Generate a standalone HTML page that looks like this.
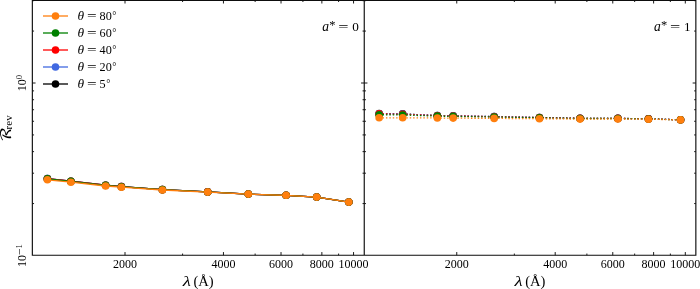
<!DOCTYPE html>
<html><head><meta charset="utf-8"><title>R_rev vs wavelength</title>
<style>
html,body{margin:0;padding:0;background:#fff}
svg{display:block}
.t{font-family:"Liberation Serif","DejaVu Serif",serif;fill:#000}
.cal{font-family:"DejaVu Math TeX Gyre","DejaVu Sans",serif}
</style></head><body>
<svg width="700" height="289" viewBox="0 0 700 289">
<rect width="700" height="289" fill="#fff"/>
<polyline points="47.40,178.60 70.90,181.20 105.60,185.20 121.40,186.60 162.40,189.60 207.70,191.90 248.30,194.10 286.10,195.30 316.70,197.10 348.80,202.10" fill="none" stroke="#000000" stroke-width="1.3" stroke-linejoin="round"/>
<circle cx="47.40" cy="178.60" r="3.8" fill="#000000"/>
<circle cx="70.90" cy="181.20" r="3.8" fill="#000000"/>
<circle cx="105.60" cy="185.20" r="3.8" fill="#000000"/>
<circle cx="121.40" cy="186.60" r="3.8" fill="#000000"/>
<circle cx="162.40" cy="189.60" r="3.8" fill="#000000"/>
<circle cx="207.70" cy="191.90" r="3.8" fill="#000000"/>
<circle cx="248.30" cy="194.10" r="3.8" fill="#000000"/>
<circle cx="286.10" cy="195.30" r="3.8" fill="#000000"/>
<circle cx="316.70" cy="197.10" r="3.8" fill="#000000"/>
<circle cx="348.80" cy="202.10" r="3.8" fill="#000000"/>
<polyline points="47.40,178.63 70.90,181.22 105.60,185.22 121.40,186.61 162.40,189.61 207.70,191.91 248.30,194.10 286.10,195.30 316.70,197.10 348.80,202.10" fill="none" stroke="#4169e1" stroke-width="1.3" stroke-linejoin="round"/>
<circle cx="47.40" cy="178.63" r="3.8" fill="#4169e1"/>
<circle cx="70.90" cy="181.22" r="3.8" fill="#4169e1"/>
<circle cx="105.60" cy="185.22" r="3.8" fill="#4169e1"/>
<circle cx="121.40" cy="186.61" r="3.8" fill="#4169e1"/>
<circle cx="162.40" cy="189.61" r="3.8" fill="#4169e1"/>
<circle cx="207.70" cy="191.91" r="3.8" fill="#4169e1"/>
<circle cx="248.30" cy="194.10" r="3.8" fill="#4169e1"/>
<circle cx="286.10" cy="195.30" r="3.8" fill="#4169e1"/>
<circle cx="316.70" cy="197.10" r="3.8" fill="#4169e1"/>
<circle cx="348.80" cy="202.10" r="3.8" fill="#4169e1"/>
<polyline points="47.40,178.68 70.90,181.27 105.60,185.25 121.40,186.64 162.40,189.63 207.70,191.91 248.30,194.10 286.10,195.30 316.70,197.10 348.80,202.10" fill="none" stroke="#ff0000" stroke-width="1.3" stroke-linejoin="round"/>
<circle cx="47.40" cy="178.68" r="3.8" fill="#ff0000"/>
<circle cx="70.90" cy="181.27" r="3.8" fill="#ff0000"/>
<circle cx="105.60" cy="185.25" r="3.8" fill="#ff0000"/>
<circle cx="121.40" cy="186.64" r="3.8" fill="#ff0000"/>
<circle cx="162.40" cy="189.63" r="3.8" fill="#ff0000"/>
<circle cx="207.70" cy="191.91" r="3.8" fill="#ff0000"/>
<circle cx="248.30" cy="194.10" r="3.8" fill="#ff0000"/>
<circle cx="286.10" cy="195.30" r="3.8" fill="#ff0000"/>
<circle cx="316.70" cy="197.10" r="3.8" fill="#ff0000"/>
<circle cx="348.80" cy="202.10" r="3.8" fill="#ff0000"/>
<polyline points="47.40,178.82 70.90,181.38 105.60,185.35 121.40,186.71 162.40,189.67 207.70,191.94 248.30,194.10 286.10,195.30 316.70,197.10 348.80,202.10" fill="none" stroke="#008000" stroke-width="1.3" stroke-linejoin="round"/>
<circle cx="47.40" cy="178.82" r="3.8" fill="#008000"/>
<circle cx="70.90" cy="181.38" r="3.8" fill="#008000"/>
<circle cx="105.60" cy="185.35" r="3.8" fill="#008000"/>
<circle cx="121.40" cy="186.71" r="3.8" fill="#008000"/>
<circle cx="162.40" cy="189.67" r="3.8" fill="#008000"/>
<circle cx="207.70" cy="191.94" r="3.8" fill="#008000"/>
<circle cx="248.30" cy="194.10" r="3.8" fill="#008000"/>
<circle cx="286.10" cy="195.30" r="3.8" fill="#008000"/>
<circle cx="316.70" cy="197.10" r="3.8" fill="#008000"/>
<circle cx="348.80" cy="202.10" r="3.8" fill="#008000"/>
<polyline points="47.40,179.80 70.90,182.20 105.60,186.00 121.40,187.20 162.40,190.00 207.70,192.10 248.30,194.10 286.10,195.30 316.70,197.10 348.80,202.10" fill="none" stroke="#ff7f0e" stroke-width="1.3" stroke-linejoin="round"/>
<circle cx="47.40" cy="179.80" r="3.8" fill="#ff7f0e"/>
<circle cx="70.90" cy="182.20" r="3.8" fill="#ff7f0e"/>
<circle cx="105.60" cy="186.00" r="3.8" fill="#ff7f0e"/>
<circle cx="121.40" cy="187.20" r="3.8" fill="#ff7f0e"/>
<circle cx="162.40" cy="190.00" r="3.8" fill="#ff7f0e"/>
<circle cx="207.70" cy="192.10" r="3.8" fill="#ff7f0e"/>
<circle cx="248.30" cy="194.10" r="3.8" fill="#ff7f0e"/>
<circle cx="286.10" cy="195.30" r="3.8" fill="#ff7f0e"/>
<circle cx="316.70" cy="197.10" r="3.8" fill="#ff7f0e"/>
<circle cx="348.80" cy="202.10" r="3.8" fill="#ff7f0e"/>
<polyline points="379.15,113.55 402.65,113.90 437.35,115.47 453.15,115.77 494.15,116.58 539.45,117.49 580.05,118.29 617.85,118.34 648.45,118.85 680.55,119.80" fill="none" stroke="#000000" stroke-width="1.3" stroke-dasharray="1.45 1.95"/>
<circle cx="379.15" cy="113.55" r="3.8" fill="#000000"/>
<circle cx="402.65" cy="113.90" r="3.8" fill="#000000"/>
<circle cx="437.35" cy="115.47" r="3.8" fill="#000000"/>
<circle cx="453.15" cy="115.77" r="3.8" fill="#000000"/>
<circle cx="494.15" cy="116.58" r="3.8" fill="#000000"/>
<circle cx="539.45" cy="117.49" r="3.8" fill="#000000"/>
<circle cx="580.05" cy="118.29" r="3.8" fill="#000000"/>
<circle cx="617.85" cy="118.34" r="3.8" fill="#000000"/>
<circle cx="648.45" cy="118.85" r="3.8" fill="#000000"/>
<circle cx="680.55" cy="119.80" r="3.8" fill="#000000"/>
<polyline points="379.15,113.70 402.65,114.04 437.35,115.56 453.15,115.85 494.15,116.64 539.45,117.53 580.05,118.32 617.85,118.36 648.45,118.86 680.55,119.80" fill="none" stroke="#4169e1" stroke-width="1.3" stroke-dasharray="1.45 1.95"/>
<circle cx="379.15" cy="113.70" r="3.8" fill="#4169e1"/>
<circle cx="402.65" cy="114.04" r="3.8" fill="#4169e1"/>
<circle cx="437.35" cy="115.56" r="3.8" fill="#4169e1"/>
<circle cx="453.15" cy="115.85" r="3.8" fill="#4169e1"/>
<circle cx="494.15" cy="116.64" r="3.8" fill="#4169e1"/>
<circle cx="539.45" cy="117.53" r="3.8" fill="#4169e1"/>
<circle cx="580.05" cy="118.32" r="3.8" fill="#4169e1"/>
<circle cx="617.85" cy="118.36" r="3.8" fill="#4169e1"/>
<circle cx="648.45" cy="118.86" r="3.8" fill="#4169e1"/>
<circle cx="680.55" cy="119.80" r="3.8" fill="#4169e1"/>
<polyline points="379.15,113.90 402.65,114.22 437.35,115.68 453.15,115.96 494.15,116.73 539.45,117.59 580.05,118.36 617.85,118.39 648.45,118.88 680.55,119.81" fill="none" stroke="#ff0000" stroke-width="1.3" stroke-dasharray="1.45 1.95"/>
<circle cx="379.15" cy="113.90" r="3.8" fill="#ff0000"/>
<circle cx="402.65" cy="114.22" r="3.8" fill="#ff0000"/>
<circle cx="437.35" cy="115.68" r="3.8" fill="#ff0000"/>
<circle cx="453.15" cy="115.96" r="3.8" fill="#ff0000"/>
<circle cx="494.15" cy="116.73" r="3.8" fill="#ff0000"/>
<circle cx="539.45" cy="117.59" r="3.8" fill="#ff0000"/>
<circle cx="580.05" cy="118.36" r="3.8" fill="#ff0000"/>
<circle cx="617.85" cy="118.39" r="3.8" fill="#ff0000"/>
<circle cx="648.45" cy="118.88" r="3.8" fill="#ff0000"/>
<circle cx="680.55" cy="119.81" r="3.8" fill="#ff0000"/>
<polyline points="379.15,114.70 402.65,114.96 437.35,116.15 453.15,116.40 494.15,117.07 539.45,117.81 580.05,118.51 617.85,118.51 648.45,118.95 680.55,119.83" fill="none" stroke="#008000" stroke-width="1.3" stroke-dasharray="1.45 1.95"/>
<circle cx="379.15" cy="114.70" r="3.8" fill="#008000"/>
<circle cx="402.65" cy="114.96" r="3.8" fill="#008000"/>
<circle cx="437.35" cy="116.15" r="3.8" fill="#008000"/>
<circle cx="453.15" cy="116.40" r="3.8" fill="#008000"/>
<circle cx="494.15" cy="117.07" r="3.8" fill="#008000"/>
<circle cx="539.45" cy="117.81" r="3.8" fill="#008000"/>
<circle cx="580.05" cy="118.51" r="3.8" fill="#008000"/>
<circle cx="617.85" cy="118.51" r="3.8" fill="#008000"/>
<circle cx="648.45" cy="118.95" r="3.8" fill="#008000"/>
<circle cx="680.55" cy="119.83" r="3.8" fill="#008000"/>
<polyline points="379.15,117.80 402.65,117.80 437.35,118.00 453.15,118.10 494.15,118.40 539.45,118.70 580.05,119.10 617.85,118.95 648.45,119.25 680.55,119.90" fill="none" stroke="#ff7f0e" stroke-width="1.3" stroke-dasharray="1.45 1.95"/>
<circle cx="379.15" cy="117.80" r="3.8" fill="#ff7f0e"/>
<circle cx="402.65" cy="117.80" r="3.8" fill="#ff7f0e"/>
<circle cx="437.35" cy="118.00" r="3.8" fill="#ff7f0e"/>
<circle cx="453.15" cy="118.10" r="3.8" fill="#ff7f0e"/>
<circle cx="494.15" cy="118.40" r="3.8" fill="#ff7f0e"/>
<circle cx="539.45" cy="118.70" r="3.8" fill="#ff7f0e"/>
<circle cx="580.05" cy="119.10" r="3.8" fill="#ff7f0e"/>
<circle cx="617.85" cy="118.95" r="3.8" fill="#ff7f0e"/>
<circle cx="648.45" cy="119.25" r="3.8" fill="#ff7f0e"/>
<circle cx="680.55" cy="119.90" r="3.8" fill="#ff7f0e"/>
<path d="M125.00 255.25L125.00 252.05M125.00 0.30L125.00 3.50M223.44 255.25L223.44 252.05M223.44 0.30L223.44 3.50M281.02 255.25L281.02 252.05M281.02 0.30L281.02 3.50M321.87 255.25L321.87 252.05M321.87 0.30L321.87 3.50M353.56 255.25L353.56 252.05M353.56 0.30L353.56 3.50M182.58 255.25L182.58 253.55M182.58 0.30L182.58 2.00M255.13 255.25L255.13 253.55M255.13 0.30L255.13 2.00M302.91 255.25L302.91 253.55M302.91 0.30L302.91 2.00M338.60 255.25L338.60 253.55M338.60 0.30L338.60 2.00M32.35 83.00L35.55 83.00M364.25 83.00L361.05 83.00M32.35 203.57L34.05 203.57M364.25 203.57L362.55 203.57M32.35 173.20L34.05 173.20M364.25 173.20L362.55 173.20M32.35 151.64L34.05 151.64M364.25 151.64L362.55 151.64M32.35 134.93L34.05 134.93M364.25 134.93L362.55 134.93M32.35 121.27L34.05 121.27M364.25 121.27L362.55 121.27M32.35 109.72L34.05 109.72M364.25 109.72L362.55 109.72M32.35 99.72L34.05 99.72M364.25 99.72L362.55 99.72M32.35 90.89L34.05 90.89M364.25 90.89L362.55 90.89M32.35 31.07L34.05 31.07M364.25 31.07L362.55 31.07M32.35 0.70L34.05 0.70M364.25 0.70L362.55 0.70M456.75 255.25L456.75 252.05M456.75 0.30L456.75 3.50M555.19 255.25L555.19 252.05M555.19 0.30L555.19 3.50M612.77 255.25L612.77 252.05M612.77 0.30L612.77 3.50M653.62 255.25L653.62 252.05M653.62 0.30L653.62 3.50M685.31 255.25L685.31 252.05M685.31 0.30L685.31 3.50M514.33 255.25L514.33 253.55M514.33 0.30L514.33 2.00M586.88 255.25L586.88 253.55M586.88 0.30L586.88 2.00M634.66 255.25L634.66 253.55M634.66 0.30L634.66 2.00M670.35 255.25L670.35 253.55M670.35 0.30L670.35 2.00M364.25 83.00L367.45 83.00M695.85 83.00L692.65 83.00M364.25 203.57L365.95 203.57M695.85 203.57L694.15 203.57M364.25 173.20L365.95 173.20M695.85 173.20L694.15 173.20M364.25 151.64L365.95 151.64M695.85 151.64L694.15 151.64M364.25 134.93L365.95 134.93M695.85 134.93L694.15 134.93M364.25 121.27L365.95 121.27M695.85 121.27L694.15 121.27M364.25 109.72L365.95 109.72M695.85 109.72L694.15 109.72M364.25 99.72L365.95 99.72M695.85 99.72L694.15 99.72M364.25 90.89L365.95 90.89M695.85 90.89L694.15 90.89M364.25 31.07L365.95 31.07M695.85 31.07L694.15 31.07M364.25 0.70L365.95 0.70M695.85 0.70L694.15 0.70" stroke="#000" stroke-width="0.9" fill="none"/>
<path d="M32.35 0.3H695.85V255.25H32.35ZM364.25 0.3V255.25" fill="none" stroke="#0d0d0d" stroke-width="1.15"/>
<path d="M43 16H68" stroke="#ff7f0e" stroke-width="1.3"/><circle cx="55.5" cy="16" r="3.8" fill="#ff7f0e"/>
<text x="77.4" y="20.4" class="t" font-size="13.4" font-style="italic">θ</text>
<text transform="translate(87.0 20.4) scale(1.38 1)" class="t" font-size="12.4">=</text>
<text x="99.6" y="20.4" class="t" font-size="12.2">80<tspan dx="0.5" dy="-1.5" font-size="10.4">°</tspan></text>
<path d="M43 33H68" stroke="#008000" stroke-width="1.3"/><circle cx="55.5" cy="33" r="3.8" fill="#008000"/>
<text x="77.4" y="37.4" class="t" font-size="13.4" font-style="italic">θ</text>
<text transform="translate(87.0 37.4) scale(1.38 1)" class="t" font-size="12.4">=</text>
<text x="99.6" y="37.4" class="t" font-size="12.2">60<tspan dx="0.5" dy="-1.5" font-size="10.4">°</tspan></text>
<path d="M43 50H68" stroke="#ff0000" stroke-width="1.3"/><circle cx="55.5" cy="50" r="3.8" fill="#ff0000"/>
<text x="77.4" y="54.4" class="t" font-size="13.4" font-style="italic">θ</text>
<text transform="translate(87.0 54.4) scale(1.38 1)" class="t" font-size="12.4">=</text>
<text x="99.6" y="54.4" class="t" font-size="12.2">40<tspan dx="0.5" dy="-1.5" font-size="10.4">°</tspan></text>
<path d="M43 67H68" stroke="#4169e1" stroke-width="1.3"/><circle cx="55.5" cy="67" r="3.8" fill="#4169e1"/>
<text x="77.4" y="71.4" class="t" font-size="13.4" font-style="italic">θ</text>
<text transform="translate(87.0 71.4) scale(1.38 1)" class="t" font-size="12.4">=</text>
<text x="99.6" y="71.4" class="t" font-size="12.2">20<tspan dx="0.5" dy="-1.5" font-size="10.4">°</tspan></text>
<path d="M43 84H68" stroke="#000000" stroke-width="1.3"/><circle cx="55.5" cy="84" r="3.8" fill="#000000"/>
<text x="77.4" y="88.4" class="t" font-size="13.4" font-style="italic">θ</text>
<text transform="translate(87.0 88.4) scale(1.38 1)" class="t" font-size="12.4">=</text>
<text x="99.6" y="88.4" class="t" font-size="12.2">5<tspan dx="0.5" dy="-1.5" font-size="10.4">°</tspan></text>
<text x="125.00" y="267.6" class="t" font-size="12" text-anchor="middle">2000</text>
<text x="223.44" y="267.6" class="t" font-size="12" text-anchor="middle">4000</text>
<text x="281.02" y="267.6" class="t" font-size="12" text-anchor="middle">6000</text>
<text x="321.87" y="267.6" class="t" font-size="12" text-anchor="middle">8000</text>
<text x="353.56" y="267.6" class="t" font-size="12" text-anchor="middle">10000</text>
<text transform="translate(182.80 285.5) scale(1.3 1)" class="t" font-size="14.5" font-style="italic">λ</text>
<text x="193.40" y="285.5" class="t" font-size="14.6">(Å)</text>
<text x="456.75" y="267.6" class="t" font-size="12" text-anchor="middle">2000</text>
<text x="555.19" y="267.6" class="t" font-size="12" text-anchor="middle">4000</text>
<text x="612.77" y="267.6" class="t" font-size="12" text-anchor="middle">6000</text>
<text x="653.62" y="267.6" class="t" font-size="12" text-anchor="middle">8000</text>
<text x="685.31" y="267.6" class="t" font-size="12" text-anchor="middle">10000</text>
<text transform="translate(514.55 285.5) scale(1.3 1)" class="t" font-size="14.5" font-style="italic">λ</text>
<text x="525.15" y="285.5" class="t" font-size="14.6">(Å)</text>
<text transform="translate(26.4 83.00) rotate(-90)" class="t" font-size="12" text-anchor="middle">10<tspan font-size="8.6" dy="-4">0</tspan></text>
<text transform="translate(26.4 255.50) rotate(-90)" class="t" font-size="12" text-anchor="middle">10<tspan font-size="8.6" dy="-4"><tspan font-size="11.5" dy="-3.5">−</tspan><tspan dy="-0.5">1</tspan></tspan></text>
<text transform="translate(11.1 142.0) rotate(-90) scale(1.22 1)" class="t cal" font-size="14.4">ℛ</text><text transform="translate(12.3 129.4) rotate(-90)" class="t" font-size="11">rev</text>
<text x="322.20" y="30.8" class="t" font-size="13.6" font-style="italic">a</text>
<text x="329.20" y="29.3" class="t" font-size="12.5">*</text>
<text transform="translate(338.2 30.8) scale(1.36 1)" class="t" font-size="13.4">=</text>
<text x="352.20" y="30.8" class="t" font-size="13.2">0</text>
<text x="653.95" y="30.8" class="t" font-size="13.6" font-style="italic">a</text>
<text x="660.95" y="29.3" class="t" font-size="12.5">*</text>
<text transform="translate(669.95 30.8) scale(1.36 1)" class="t" font-size="13.4">=</text>
<text x="683.95" y="30.8" class="t" font-size="13.2">1</text>
</svg>
</body></html>
